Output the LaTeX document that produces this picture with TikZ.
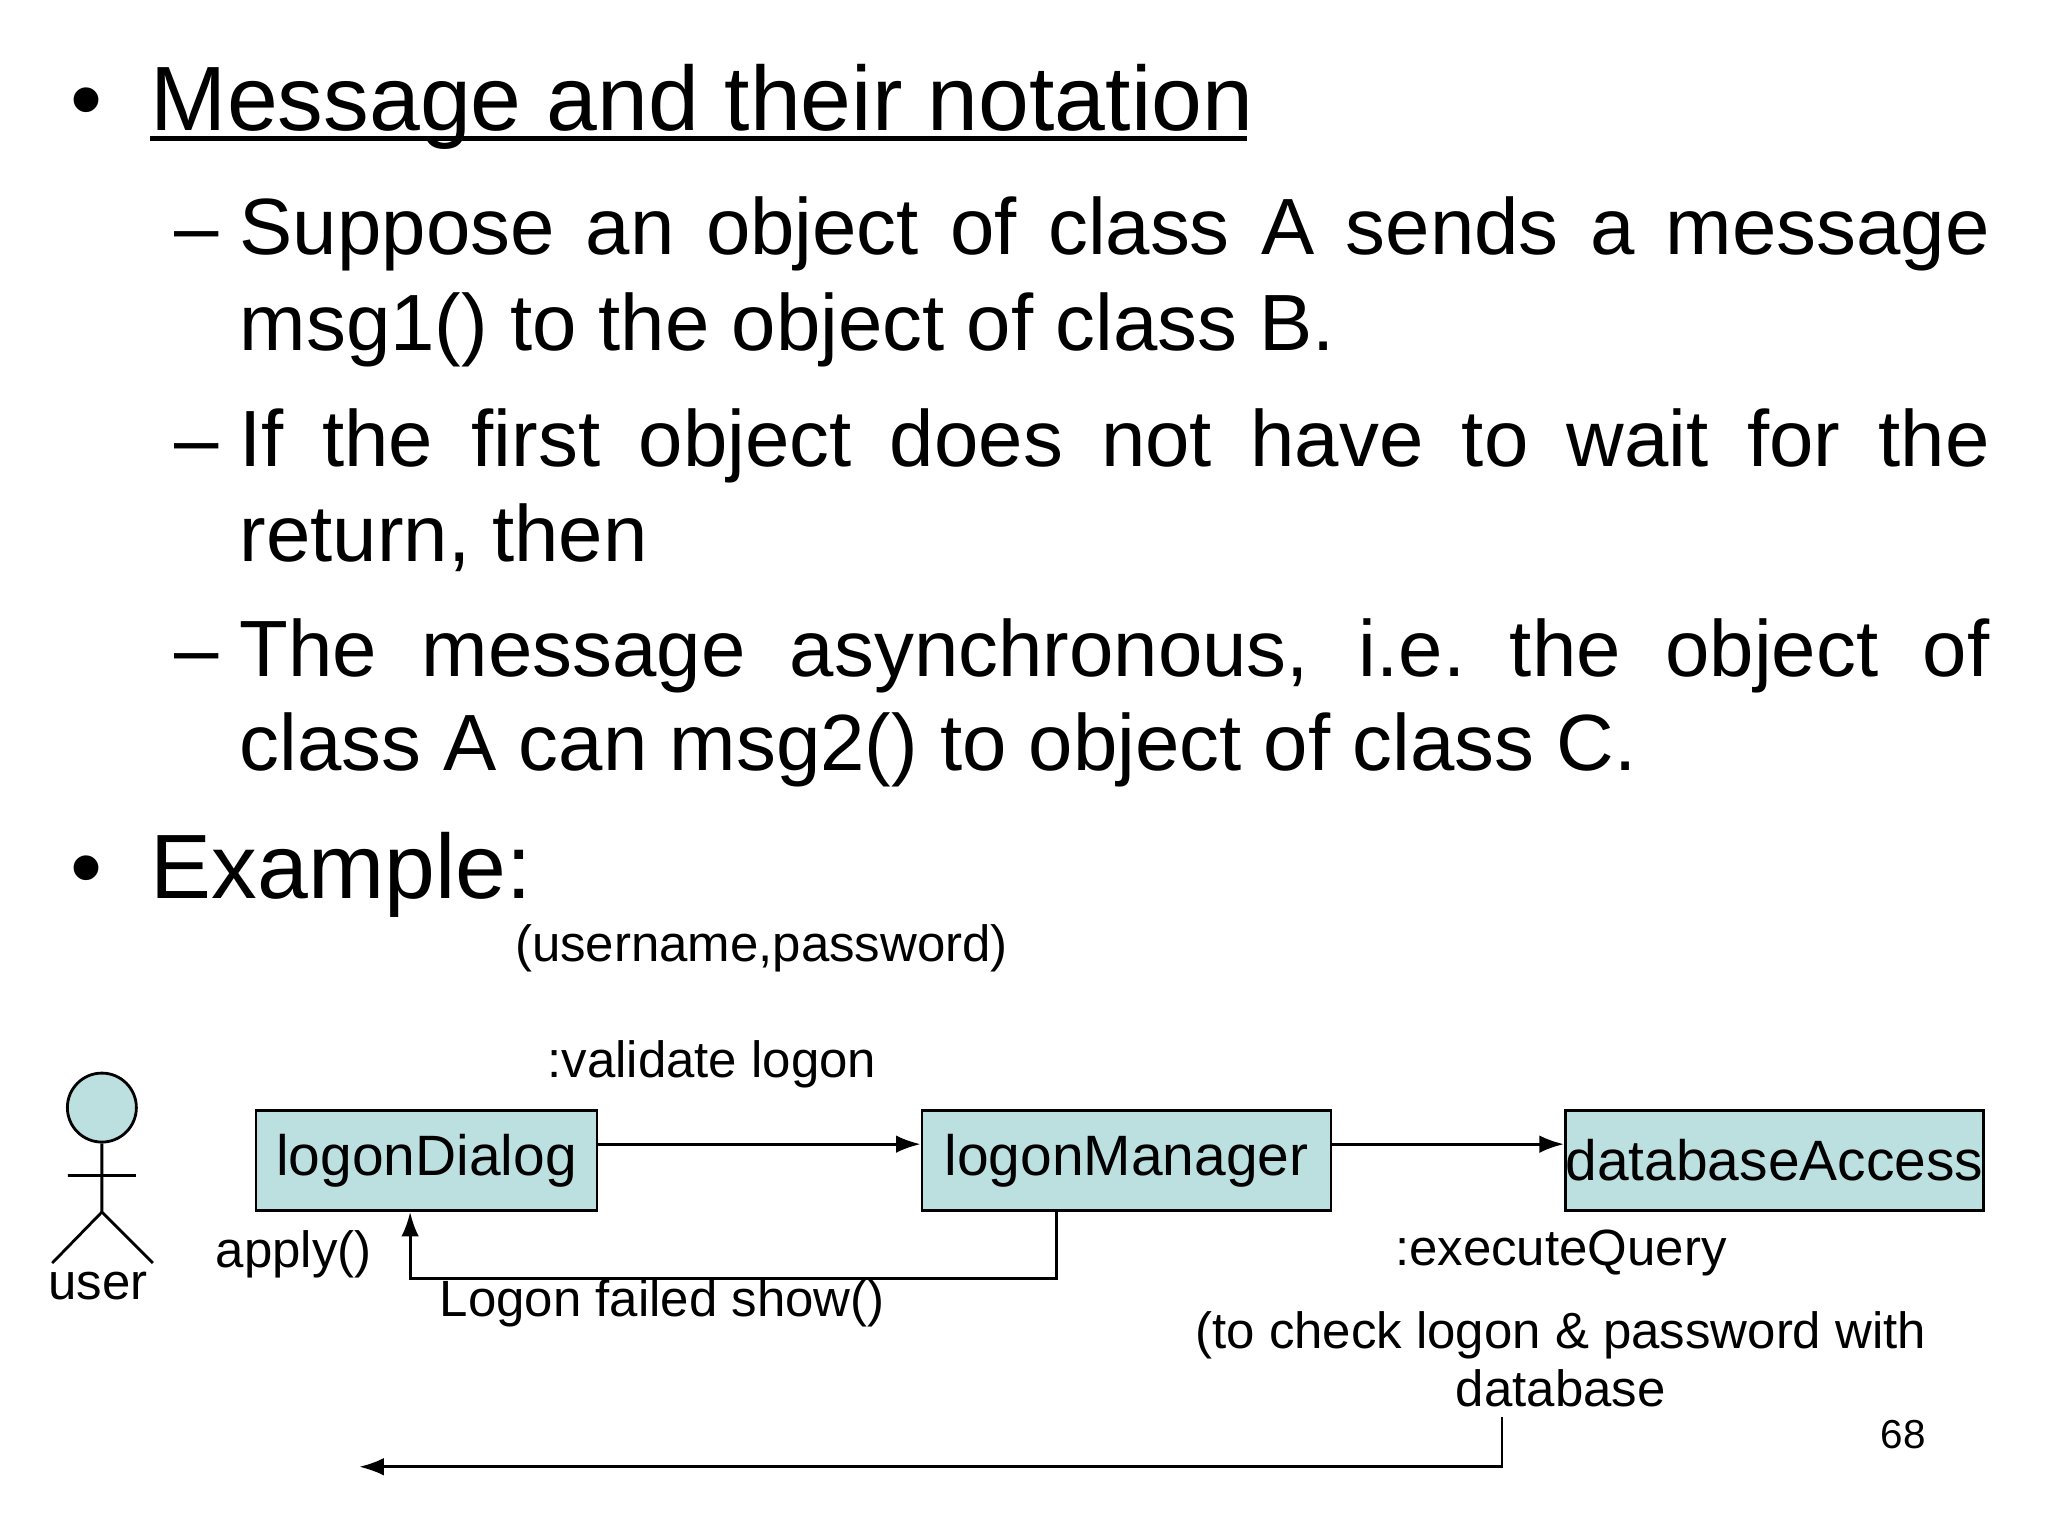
\documentclass[tikz,border=0pt]{standalone}
\usepackage{fontspec}
\setmainfont{Liberation Sans}
\usetikzlibrary{arrows.meta}
\definecolor{boxfill}{HTML}{BCE0E0}
\begin{document}
\begin{tikzpicture}[x=0.01306cm,y=-0.01306cm,
  big/.style={font=\fontsize{26}{30}\selectfont,inner sep=0pt},
  sub/.style={font=\fontsize{22.7}{27}\selectfont,inner sep=0pt},
  jline/.style={sub,anchor=base west,text width=17.5cm,align=justify},
  obj/.style={draw,fill=boxfill,line width=0.8pt,minimum width=#1,minimum height=1.0cm,inner sep=0pt,font=\fontsize{16.2}{19}\selectfont},
  lbl/.style={font=\fontsize{14.5}{17}\selectfont,inner sep=0pt},
  arr/.style={line width=0.8pt,-{Latex[length=7pt,width=5pt]}}]
\useasboundingbox (0,0) rectangle (1568,1176);
% text
\node[big,anchor=base] (b1) at (66,100) {•};
\node[big,anchor=base west] (t1) at (115,100) {Message and their notation};
\draw[line width=1.2pt] (115,106) -- (955,106);
\foreach \y/\n in {195/d1,357/d3,518/d5} \node[sub,anchor=base west] (\n) at (133,\y) {–};
\node[jline] (l1) at (183,195) {\parfillskip=0pt Suppose an object of class A sends a message\par};
\node[sub,anchor=base west] (l2) at (183,268) {msg1() to the object of class B.};
\node[jline] (l3) at (183,357) {\parfillskip=0pt If the first object does not have to wait for the\par};
\node[sub,anchor=base west] (l4) at (183,430) {return, then};
\node[jline] (l5) at (183,518) {\parfillskip=0pt The message asynchronous, i.e.\ the object of\par};
\node[sub,anchor=base west] (l6) at (183,590) {class A can msg2() to object of class C.};
\node[big,anchor=base] (b2) at (66,688) {•};
\node[big,anchor=base west] (ex) at (115,688) {Example:};
% actor
\node[draw,circle,fill=boxfill,minimum size=0.69cm,inner sep=0pt,line width=0.8pt] (head) at (78,848) {};
\coordinate (hip) at (78,928);
\draw[line width=0.8pt] (head.south) -- (hip) (52,900) -- (104,900) (40,967) -- (hip) -- (117,967);
\node[lbl] (user) at (75,985) {user};
% objects
\node[obj=3.41cm] (ld) at (326.5,888.5) {logonDialog};
\node[obj=4.09cm] (lm) at (862.5,888.5) {logonManager};
\node[obj=4.11cm] (da) at (1358.5,888.5) {databaseAccess};
\draw[arr] (ld.east |- 0,876) -- (lm.west |- 0,876);
\draw[arr] (lm.east |- 0,876) -- (da.west |- 0,876);
\coordinate (r1) at (809,979);
\coordinate (r2) at (314,979);
\draw[arr] (lm.south -| r1) -- (r1) -- (r2) -- (ld.south -| r2);
\coordinate (q1) at (1150,1085);
\coordinate (q2) at (1150,1123);
\coordinate (q3) at (275,1123);
\draw[arr] (q1) -- (q2) -- (q3);
% labels
\node[lbl] (up) at (583,726) {(username,password)};
\node[lbl] (vl) at (545,815) {:validate logon};
\node[lbl] (ap) at (225,960) {apply()};
\node[lbl] (lf) at (507,998) {Logon failed show()};
\node[lbl] (eq) at (1195,959) {:executeQuery};
\node[lbl] (ck) at (1195,1022) {(to check logon \& password with};
\node[lbl] (db) at (1195,1063) {database};
\node[font=\fontsize{11.5}{13}\selectfont,inner sep=0pt] (pg) at (1457,1098) {68};
\end{tikzpicture}
\end{document}
